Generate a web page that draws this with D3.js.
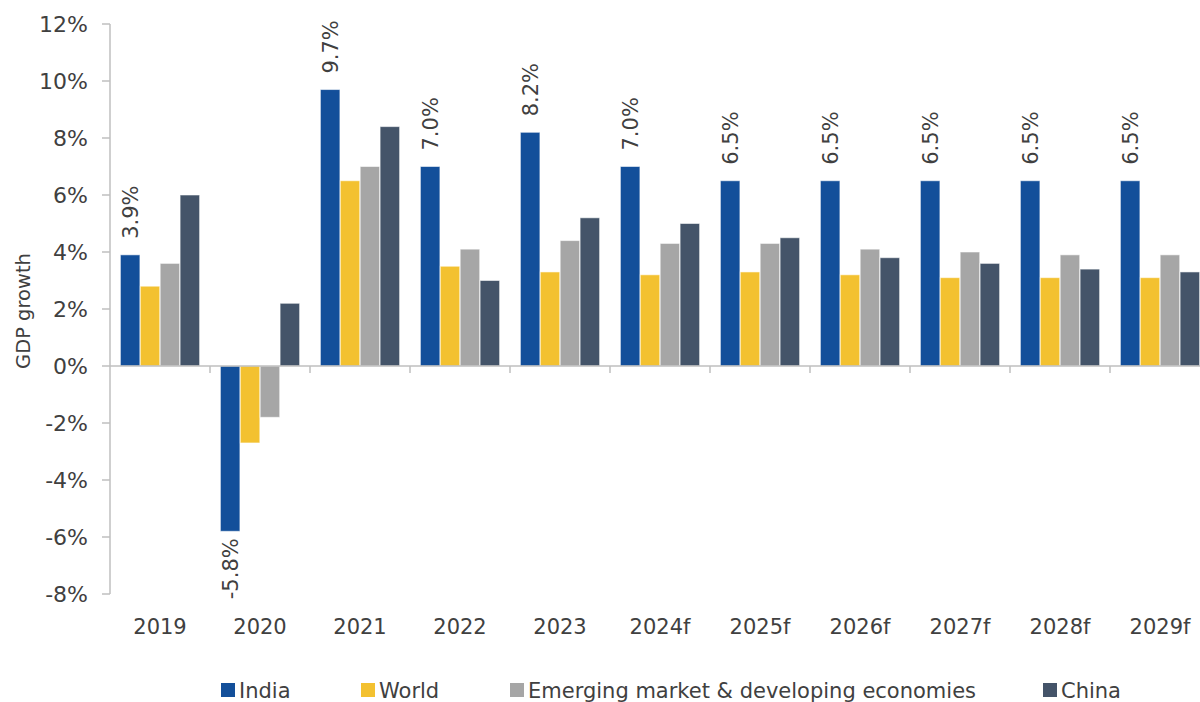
<!DOCTYPE html>
<html>
<head>
<meta charset="utf-8">
<script src="https://cdn.jsdelivr.net/npm/d3@7"></script>
<style>
  html, body { margin: 0; padding: 0; background: #fff; }
  svg { display: block; font-family: "DejaVu Sans", Verdana, sans-serif; }
</style>
</head>
<body>
<svg id="chart" width="1200" height="702"></svg>
<script>
// GDP growth, India vs World vs EMDE vs China
var years = ["2019", "2020", "2021", "2022", "2023", "2024f", "2025f", "2026f", "2027f", "2028f", "2029f"];
var seriesNames = ["India", "World", "Emerging market & developing economies", "China"];
var india = [3.9, -5.8, 9.7, 7.0, 8.2, 7.0, 6.5, 6.5, 6.5, 6.5, 6.5];
var world = [2.8, -2.7, 6.5, 3.5, 3.3, 3.2, 3.3, 3.2, 3.1, 3.1, 3.1];
var emde = [3.6, -1.8, 7.0, 4.1, 4.4, 4.3, 4.3, 4.1, 4.0, 3.9, 3.9];
var china = [6.0, 2.2, 8.4, 3.0, 5.2, 5.0, 4.5, 3.8, 3.6, 3.4, 3.3];
var yTicks = [-8, -6, -4, -2, 0, 2, 4, 6, 8, 10, 12];

var colors = ["#134f9a", "#f3c130", "#a6a6a6", "#445469"];
var textColor = "#404040";
var axisColor = "#bfbfbf";

var svg = d3.select("#chart");

var x = d3.scaleBand().domain(years).range([110, 1210]);
var x1 = d3.scaleBand().domain(d3.range(4)).range([10, 90]).padding(0.02);
var y = d3.scaleLinear().domain([-8, 12]).range([594, 24]);

var allSeries = [india, world, emde, china];
var rows = [];
years.forEach(function(yr, i) {
	for (var s = 0; s < 4; s++) {
		rows.push({ year: yr, s: s, v: allSeries[s][i] });
	}
});

// y axis
svg.append("line")
	.attr("x1", 110).attr("x2", 110)
	.attr("y1", y(12)).attr("y2", y(-8))
	.attr("stroke", axisColor).attr("stroke-width", 1.5);

var yt = svg.append("g").selectAll("g").data(yTicks).enter().append("g");
yt.append("line")
	.attr("x1", 102).attr("x2", 110)
	.attr("y1", function(d) { return y(d); })
	.attr("y2", function(d) { return y(d); })
	.attr("stroke", axisColor).attr("stroke-width", 1.5);
yt.append("text")
	.attr("x", 88)
	.attr("y", function(d) { return y(d); })
	.attr("dy", "0.36em")
	.attr("text-anchor", "end")
	.attr("fill", textColor)
	.style("font-size", "22px")
	.text(function(d) { return d + "%"; });

svg.append("text")
	.attr("transform", "translate(30,311) rotate(-90)")
	.attr("text-anchor", "middle")
	.attr("fill", textColor)
	.style("font-size", "19.5px")
	.text("GDP growth");

// bars
svg.append("g").selectAll("rect").data(rows).enter().append("rect")
	.attr("x", function(d) { return x(d.year) + x1(d.s); })
	.attr("width", x1.bandwidth())
	.attr("y", function(d) { return y(Math.max(0, d.v)); })
	.attr("height", function(d) { return Math.abs(y(d.v) - y(0)); })
	.attr("fill", function(d) { return colors[d.s]; })
	.attr("stroke", "#ffffff")
	.attr("stroke-opacity", 0.55)
	.attr("stroke-width", 1);

// x axis
svg.append("line")
	.attr("x1", 110).attr("x2", 1200)
	.attr("y1", y(0)).attr("y2", y(0))
	.attr("stroke", axisColor).attr("stroke-width", 1.5);

svg.append("g").selectAll("line").data(years.slice(1)).enter().append("line")
	.attr("x1", function(d) { return x(d); })
	.attr("x2", function(d) { return x(d); })
	.attr("y1", y(0)).attr("y2", y(0) + 7)
	.attr("stroke", axisColor).attr("stroke-width", 1.5);

svg.append("g").selectAll("text").data(years).enter().append("text")
	.attr("x", function(d) { return x(d) + x.bandwidth() / 2; })
	.attr("y", 634)
	.attr("text-anchor", "middle")
	.attr("fill", textColor)
	.style("font-size", "21px")
	.text(function(d) { return d; });

// India data labels
svg.append("g").selectAll("text").data(india).enter().append("text")
	.attr("transform", function(d, i) {
		var cx = x(years[i]) + x1(0) + x1.bandwidth() / 2 + 8;
		var cy = d >= 0 ? y(d) - 16 : y(d) + 7;
		return "translate(" + cx + "," + cy + ") rotate(-90)";
	})
	.attr("text-anchor", function(d) { return d >= 0 ? "start" : "end"; })
	.attr("fill", textColor)
	.style("font-size", "21px")
	.text(function(d) { return d.toFixed(1) + "%"; });

// legend
var legendX = [221, 361, 510, 1043];
var lg = svg.append("g").selectAll("g").data(seriesNames).enter().append("g")
	.attr("transform", function(d, i) { return "translate(" + legendX[i] + ",683)"; });
lg.append("rect")
	.attr("width", 14).attr("height", 14)
	.attr("fill", function(d, i) { return colors[i]; });
lg.append("text")
	.attr("x", 18).attr("y", 7)
	.attr("dy", "0.36em")
	.attr("fill", textColor)
	.style("font-size", "21px")
	.text(function(d) { return d; });
</script>
</body>
</html>
